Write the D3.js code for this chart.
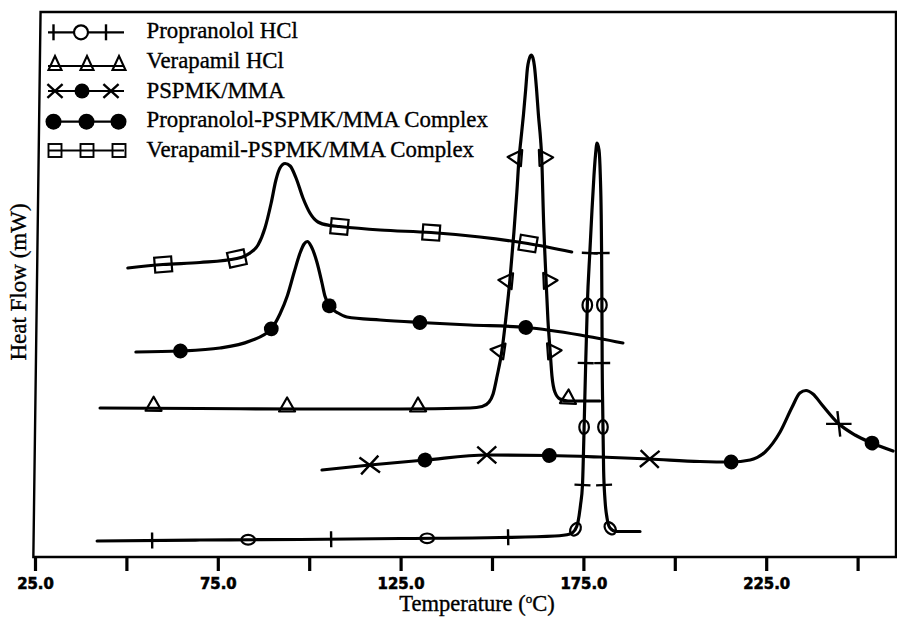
<!DOCTYPE html>
<html>
<head>
<meta charset="utf-8">
<script src="https://cdn.jsdelivr.net/npm/d3@7"></script>
<style>
  html, body { margin: 0; padding: 0; background: #fff; }
  svg { display: block; background: #fff; }
</style>
</head>
<body>
<svg id="chart" width="897" height="620"></svg>
<script>
// ---- Temperature axis ----
const tickTemps  = [25, 50, 75, 100, 125, 150, 175, 200, 225, 250];
const tickLabels = ["25.0", "", "75.0", "", "125.0", "", "175.0", "", "225.0", ""];

// ---- Legend entries (top to bottom) ----
const seriesNames = [
  "Propranolol HCl",
  "Verapamil HCl",
  "PSPMK/MMA",
  "Propranolol-PSPMK/MMA Complex",
  "Verapamil-PSPMK/MMA Complex"
];

// ---- DSC traces: [temperature °C, heat flow (offset, arbitrary units)] ----
const propranololHCl = [
  [42.0, 3.2], [70.1, 3.4], [97.5, 3.5], [124.8, 3.7], [152.2, 3.9], [167.2, 4.2],
  [171.33, 4.6], [172.70, 5.4], [173.52, 7.0], [174.21, 10.4], [174.75, 14.4],
  [175.11, 23.4], [175.33, 30.0], [175.63, 38.8], [176.09, 50.8], [176.75, 60.8],
  [177.35, 69.4], [177.90, 76.4], [178.31, 80.4], [178.72, 82.8], [179.27, 81.4],
  [179.62, 76.4], [179.87, 68.4], [179.98, 60.8], [180.06, 50.8], [180.14, 38.8],
  [180.28, 30.0], [180.53, 17.4], [180.91, 11.4], [181.46, 7.8], [182.28, 5.8],
  [183.92, 5.1], [190.48, 5.1]
];

const verapamilHCl = [
  [42.8, 29.8], [70.1, 29.7], [97.5, 29.6], [124.8, 29.6], [144.0, 29.8], [147.3, 30.1],
  [149.2, 31.0], [150.3, 32.6], [151.4, 36.2], [152.7, 41.2], [153.8, 47.8], [154.9, 55.4],
  [156.0, 65.0], [156.8, 73.0], [157.4, 79.8], [157.9, 83.4], [158.6, 88.4], [159.2, 93.4],
  [159.7, 97.8], [160.1, 99.4], [160.7, 100.4], [161.2, 99.8], [161.6, 98.2], [162.2, 93.4],
  [162.7, 88.4], [163.3, 83.4], [163.6, 79.8], [164.1, 67.4], [164.8, 55.2], [165.3, 47.4],
  [165.9, 41.2], [166.4, 36.2], [167.2, 33.0], [168.6, 31.6], [170.8, 31.2], [179.5, 31.2]
];

const pspmkMMA = [
  [103.5, 17.4], [116.6, 18.4], [131.7, 19.4], [148.6, 20.4], [165.6, 20.3], [179.5, 20.0],
  [193.2, 19.6], [206.9, 19.1], [215.4, 19.0], [220.6, 19.4], [224.7, 21.0], [228.8, 25.0],
  [232.1, 30.0], [234.2, 32.8], [235.9, 33.3], [237.8, 32.6], [240.3, 30.4], [244.6, 26.8],
  [249.3, 24.4], [253.9, 22.8], [259.7, 21.2]
];

const propranololComplex = [
  [52.6, 41.0], [64.7, 41.2], [75.6, 41.8], [83.8, 43.2], [89.6, 45.6], [92.0, 48.6],
  [94.0, 52.2], [95.9, 57.0], [97.5, 60.8], [98.6, 62.6], [99.5, 63.1], [100.5, 62.2],
  [102.1, 59.0], [103.5, 54.8], [104.3, 52.2], [105.5, 50.2], [107.9, 48.8], [110.3, 48.0],
  [119.4, 47.4], [130.3, 46.9], [144.0, 46.4], [159.3, 45.9], [174.1, 44.4], [185.8, 42.8]
];

const verapamilComplex = [
  [50.4, 57.8], [60.0, 58.5], [70.1, 58.9], [80.2, 59.7], [83.8, 60.8], [86.0, 62.4],
  [87.9, 65.8], [89.6, 70.8], [90.9, 75.4], [92.0, 77.8], [93.4, 78.7], [94.8, 78.2],
  [96.4, 75.8], [98.3, 71.8], [100.2, 68.8], [102.4, 67.0], [105.7, 66.3], [108.2, 66.1],
  [119.4, 65.4], [133.3, 64.9], [146.7, 64.0], [159.8, 62.7], [171.8, 61.0]
];

// ---- Plot symbols along each trace: [temperature, heat flow, symbol] ----
const propranololHClMarks = [
  [57.0, 3.2, "tick"], [83.3, 3.7, "ring"], [106.0, 3.5, "tick"], [132.2, 3.8, "ring"],
  [154.4, 3.9, "tick"], [172.8, 5.6, "ring"], [174.8, 14.4, "tick"], [175.2, 26.0, "ring"],
  [175.7, 38.8, "tick"], [176.2, 50.4, "ring"], [176.9, 60.8, "tick"], [180.0, 60.8, "tick"],
  [180.1, 50.4, "ring"], [180.1, 38.8, "tick"], [180.3, 26.0, "ring"], [180.6, 14.4, "tick"],
  [182.1, 5.6, "ring"]
];
const verapamilHClMarks = [
  [57.5, 29.8, "triangle"], [93.9, 29.4, "triangle"], [129.8, 29.6, "triangle"],
  [152.7, 41.2, "triangle"], [154.9, 55.2, "triangle"], [157.4, 79.8, "triangle"],
  [163.6, 79.8, "triangle"], [164.8, 55.2, "triangle"], [165.9, 41.2, "triangle"],
  [170.8, 31.2, "triangle"]
];
const pspmkMMAMarks = [
  [116.6, 18.4, "cross"], [131.7, 19.4, "dot"], [148.6, 20.5, "cross"], [165.6, 20.3, "dot"],
  [193.2, 19.6, "cross"], [215.4, 19.0, "dot"], [244.9, 26.6, "cross"], [253.9, 22.8, "dot"]
];
const propranololComplexMarks = [
  [64.7, 41.2, "dot"], [89.7, 45.6, "dot"], [105.5, 50.2, "dot"], [130.3, 46.9, "dot"],
  [159.2, 45.9, "dot"]
];
const verapamilComplexMarks = [
  [60.0, 58.5, "square"], [80.2, 59.7, "square"], [108.2, 66.1, "square"],
  [133.4, 65.0, "square"], [159.9, 62.7, "square"]
];

// ---- Drawing ----
const svg = d3.select("#chart");
const x = d3.scaleLinear().domain([25, 250]).range([35, 857.6]);
const y = d3.scaleLinear().domain([0, 109]).range([557, 12]);

const serifFont = "'Liberation Serif', 'Times New Roman', serif";

// plot frame (left edge leans slightly as on the original plotter sheet)
const fx0 = x(24.55), fx1 = x(260.5), fy0 = y(109), fy1 = y(0);
svg.append("path")
  .attr("d", `M${fx0 + 7.2},${fy0} L${fx1},${fy0} L${fx1},${fy1} L${fx0},${fy1} Z`)
  .attr("fill", "none").attr("stroke", "#000").attr("stroke-width", 2.4);

// temperature axis
const axis = svg.append("g")
  .attr("transform", `translate(0,${fy1})`)
  .call(d3.axisBottom(x).tickValues(tickTemps).tickSize(14).tickPadding(6)
    .tickFormat((d, i) => tickLabels[i]));
axis.select(".domain").remove();
axis.selectAll(".tick line").attr("stroke", "#000").attr("stroke-width", 3.2);
axis.selectAll(".tick text")
  .attr("fill", "#000")
  .attr("stroke", "#000").attr("stroke-width", 0.6)
  .style("font-family", "'DejaVu Sans Condensed', 'DejaVu Sans', sans-serif")
  .style("font-stretch", "condensed")
  .style("font-weight", "bold")
  .style("font-size", "16.5px");

// axis titles
const xTitle = svg.append("text")
  .attr("x", 477).attr("y", 611).attr("text-anchor", "middle")
  .attr("stroke", "#000").attr("stroke-width", 0.35)
  .style("font-family", serifFont).style("font-size", "22.5px").attr("fill", "#000");
xTitle.append("tspan").text("Temperature (");
xTitle.append("tspan").text("o").attr("dy", -8).style("font-size", "13px");
xTitle.append("tspan").text("C)").attr("dy", 8);

svg.append("text")
  .attr("transform", "translate(26,282) rotate(-90)")
  .attr("text-anchor", "middle")
  .attr("stroke", "#000").attr("stroke-width", 0.35)
  .style("font-family", serifFont).style("font-size", "23px").attr("fill", "#000")
  .text("Heat Flow (mW)");

// symbol painter: draws in a local frame whose x axis follows the trace
function drawSymbol(g, type, scale) {
  const k = scale || 1;
  if (type === "tick") {
    g.append("line").attr("x1", 0).attr("x2", 0).attr("y1", -8 * k).attr("y2", 8 * k)
      .attr("stroke", "#000").attr("stroke-width", 2.4);
  } else if (type === "ring") {
    g.append("ellipse").attr("rx", 6.8 * k).attr("ry", 4.8 * k)
      .attr("fill", "none").attr("stroke", "#000").attr("stroke-width", 2.2);
  } else if (type === "triangle") {
    g.append("path")
      .attr("d", `M${-8 * k},${2.5 * k} L${8 * k},${2.5 * k} L0,${-11.5 * k} Z`)
      .attr("fill", "none").attr("stroke", "#000").attr("stroke-width", 2.2).attr("stroke-linejoin", "round");
  } else if (type === "square") {
    g.append("rect").attr("x", -8.5 * k).attr("y", -7.5 * k).attr("width", 17 * k).attr("height", 15 * k)
      .attr("fill", "none").attr("stroke", "#000").attr("stroke-width", 2.2);
  } else if (type === "dot") {
    g.append("circle").attr("r", 7.4 * k).attr("fill", "#000");
  } else if (type === "cross") {
    g.append("path")
      .attr("d", `M${-9.5 * k},${-8.5 * k} L${9.5 * k},${8.5 * k} M${-9.5 * k},${8.5 * k} L${9.5 * k},${-8.5 * k}`)
      .attr("stroke", "#000").attr("stroke-width", 2.4).attr("fill", "none");
  }
}

const line = d3.line().x(d => x(d[0])).y(d => y(d[1])).curve(d3.curveMonotoneX);

const traces = [
  { data: propranololHCl, marks: propranololHClMarks },
  { data: verapamilHCl, marks: verapamilHClMarks },
  { data: pspmkMMA, marks: pspmkMMAMarks },
  { data: propranololComplex, marks: propranololComplexMarks },
  { data: verapamilComplex, marks: verapamilComplexMarks }
];

const traceLayer = svg.append("g");
const markLayer = svg.append("g");

traces.forEach(tr => {
  const path = traceLayer.append("path")
    .datum(tr.data)
    .attr("d", line)
    .attr("fill", "none").attr("stroke", "#000").attr("stroke-width", 3.2)
    .attr("stroke-linejoin", "round").attr("stroke-linecap", "round");

  // sample the drawn trace so every symbol sits on it, turned with its direction
  const node = path.node();
  const len = node.getTotalLength();
  const pts = [];
  for (let s = 0; s <= len; s += 0.5) pts.push(node.getPointAtLength(s));

  tr.marks.forEach(m => {
    const px = x(m[0]), py = y(m[1]);
    let best = 0, bd = Infinity;
    pts.forEach((p, i) => {
      const dd = (p.x - px) ** 2 + (p.y - py) ** 2;
      if (dd < bd) { bd = dd; best = i; }
    });
    const a = pts[Math.max(0, best - 6)], b = pts[Math.min(pts.length - 1, best + 6)];
    const ang = Math.atan2(b.y - a.y, b.x - a.x) * 180 / Math.PI;
    const g = markLayer.append("g")
      .attr("transform", `translate(${pts[best].x},${pts[best].y}) rotate(${ang})`);
    drawSymbol(g, m[2], 1);
  });
});

// ---- Legend ----
const legendSymbols = [
  [["tick", 53.5], ["ring", 81], ["tick", 106]],
  [["triangle", 55], ["triangle", 87], ["triangle", 119]],
  [["cross", 55], ["dot", 82], ["cross", 111]],
  [["dot", 53.5], ["dot", 86.5], ["dot", 118.5]],
  [["square", 55], ["square", 87], ["square", 119]]
];
const legendLineY = [32.3, 66, 91, 121.7, 150.5];
const legend = svg.append("g");
seriesNames.forEach((name, i) => {
  const ly = legendLineY[i];
  legend.append("line").attr("x1", 48).attr("x2", 124).attr("y1", ly).attr("y2", ly)
    .attr("stroke", "#000").attr("stroke-width", 2.2);
  legendSymbols[i].forEach(s => {
    const g = legend.append("g").attr("transform", `translate(${s[1]},${ly})`);
    if (s[0] === "ring") {
      g.append("circle").attr("r", 7).attr("fill", "#fff").attr("stroke", "#000").attr("stroke-width", 2.2);
    } else if (s[0] === "square") {
      g.append("rect").attr("x", -6.5).attr("y", -6.5).attr("width", 13).attr("height", 13)
        .attr("fill", "none").attr("stroke", "#000").attr("stroke-width", 1.9);
    } else if (s[0] === "triangle") {
      g.append("path").attr("d", "M-6.5,4 L6.5,4 L0,-10 Z")
        .attr("fill", "none").attr("stroke", "#000").attr("stroke-width", 2.1);
    } else if (s[0] === "dot") {
      g.append("circle").attr("r", i === 2 ? 7.5 : 8).attr("fill", "#000");
    } else {
      drawSymbol(g, s[0], s[0] === "cross" ? 0.8 : 1);
    }
  });
  legend.append("text")
    .attr("x", 146.5).attr("y", 38.3 + i * 29.7)
    .attr("stroke", "#000").attr("stroke-width", 0.35)
    .style("font-family", serifFont).style("font-size", "22.8px").attr("fill", "#000")
    .text(name);
});
</script>
</body>
</html>
